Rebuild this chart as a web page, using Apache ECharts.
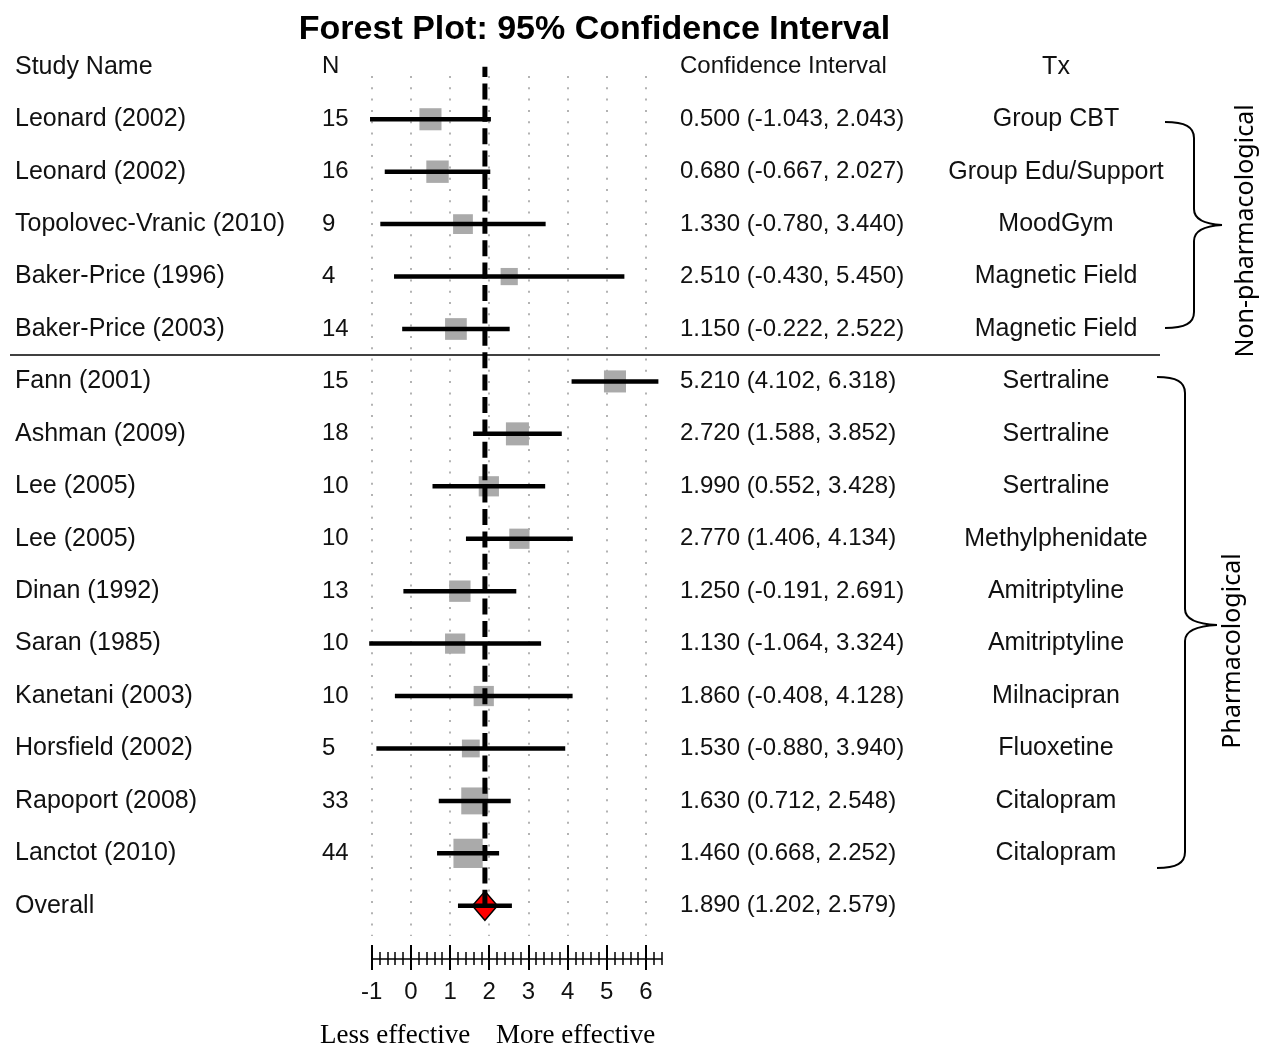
<!DOCTYPE html>
<html>
<head>
<meta charset="utf-8">
<title>Forest Plot: 95% Confidence Interval</title>
<script src="https://cdn.jsdelivr.net/npm/echarts@6/dist/echarts.min.js"></script>
<style>
  html, body { margin: 0; padding: 0; background: #fff; }
  #chart { width: 1272px; height: 1050px; }
</style>
</head>
<body>
<div id="chart"></div>
<script>
// rows, top to bottom
const studyNames = [
  "Leonard (2002)", "Leonard (2002)", "Topolovec-Vranic (2010)", "Baker-Price (1996)",
  "Baker-Price (2003)", "Fann (2001)", "Ashman (2009)", "Lee (2005)", "Lee (2005)",
  "Dinan (1992)", "Saran (1985)", "Kanetani (2003)", "Horsfield (2002)",
  "Rapoport (2008)", "Lanctot (2010)"
];
const sampleSizes = [15, 16, 9, 4, 14, 15, 18, 10, 10, 13, 10, 10, 5, 33, 44];
const estimates = [0.5, 0.68, 1.33, 2.51, 1.15, 5.21, 2.72, 1.99, 2.77, 1.25, 1.13, 1.86, 1.53, 1.63, 1.46];
const lowerBounds = [-1.043, -0.667, -0.78, -0.43, -0.222, 4.102, 1.588, 0.552, 1.406, -0.191, -1.064, -0.408, -0.88, 0.712, 0.668];
const upperBounds = [2.043, 2.027, 3.44, 5.45, 2.522, 6.318, 3.852, 3.428, 4.134, 2.691, 3.324, 4.128, 3.94, 2.548, 2.252];
const treatments = [
  "Group CBT", "Group Edu/Support", "MoodGym", "Magnetic Field", "Magnetic Field",
  "Sertraline", "Sertraline", "Sertraline", "Methylphenidate", "Amitriptyline",
  "Amitriptyline", "Milnacipran", "Fluoxetine", "Citalopram", "Citalopram"
];
const overallLabel = "Overall";
const overallEstimate = 1.89;
const overallLower = 1.202;
const overallUpper = 2.579;
const columnHeaders = ["Study Name", "N", "Confidence Interval", "Tx"];
const xTickValues = [-1, 0, 1, 2, 3, 4, 5, 6];
const groupLabels = ["Non-pharmacological", "Pharmacological"];
const effectLabels = ["Less effective", "More effective"];

const FONT = "'Liberation Sans', Arial, sans-serif";
const overallRow = studyNames.length + 1;

// plot area in pixels
const plotLeft = 371.7;
const plotWidth = 289.9;
const rowsTop = 40.6;
const rowsHeight = 891.4;

function fmtCI(est, lo, hi) {
  return est.toFixed(3) + " (" + lo.toFixed(3) + ", " + hi.toFixed(3) + ")";
}

const rowIds = [];
for (let i = 0; i <= overallRow; i++) rowIds.push(String(i));

const nameColumn = [columnHeaders[0]].concat(studyNames, [overallLabel]);
const nColumn = [columnHeaders[1]].concat(sampleSizes.map(String), [""]);
const ciColumn = [columnHeaders[2]].concat(
  estimates.map((e, i) => fmtCI(e, lowerBounds[i], upperBounds[i])),
  [fmtCI(overallEstimate, overallLower, overallUpper)]
);
const txColumn = [columnHeaders[3]].concat(treatments, [""]);

function columnAxis(texts, position, margin, align, size) {
  return {
    type: "category",
    gridIndex: 0,
    data: rowIds,
    inverse: true,
    position: position,
    axisLine: { show: false },
    axisTick: { show: false },
    splitLine: { show: false },
    axisLabel: {
      interval: 0,
      margin: margin,
      align: align,
      color: "#111",
      fontFamily: FONT,
      fontSize: size,
      formatter: (v) => texts[+v]
    }
  };
}

// the x axis at the bottom is built from stacked axes: long/short ticks, above/below the line
function tickAxis(opts) {
  return Object.assign({
    type: "value",
    gridIndex: 1,
    min: -1,
    max: 6.4,
    position: "bottom",
    offset: 23,
    axisLine: { show: false, onZero: false },
    axisLabel: { show: false },
    splitLine: { show: false }
  }, opts);
}

function ciLine(params, api) {
  const start = api.coord([api.value(0), api.value(2)]);
  const end = api.coord([api.value(1), api.value(2)]);
  return {
    type: "line",
    shape: { x1: start[0], y1: start[1], x2: end[0], y2: end[1] },
    style: { stroke: "#000", lineWidth: 4.5 }
  };
}

// curly brace opening to the left: ends at xEnd, spine at xSpine, tip at (xTip, yTip)
function brace(xEnd, xSpine, xTip, yTop, yTip, yBottom) {
  const r = 16;
  const st = { stroke: "#000", lineWidth: 2, fill: null };
  const dx = xSpine - xEnd;
  const tx = xTip - xSpine;
  const parts = [
    { type: "bezierCurve", shape: { x1: xEnd, y1: yTop, cpx1: xEnd + dx * 0.7, cpy1: yTop, cpx2: xSpine, cpy2: yTop + 5, x2: xSpine, y2: yTop + r } },
    { type: "line", shape: { x1: xSpine, y1: yTop + r, x2: xSpine, y2: yTip - r } },
    { type: "bezierCurve", shape: { x1: xSpine, y1: yTip - r, cpx1: xSpine, cpy1: yTip - 6, cpx2: xSpine + tx * 0.35, cpy2: yTip - 1, x2: xTip, y2: yTip } },
    { type: "bezierCurve", shape: { x1: xTip, y1: yTip, cpx1: xSpine + tx * 0.35, cpy1: yTip + 1, cpx2: xSpine, cpy2: yTip + 6, x2: xSpine, y2: yTip + r } },
    { type: "line", shape: { x1: xSpine, y1: yTip + r, x2: xSpine, y2: yBottom - r } },
    { type: "bezierCurve", shape: { x1: xSpine, y1: yBottom - r, cpx1: xSpine, cpy1: yBottom - 5, cpx2: xEnd + dx * 0.7, cpy2: yBottom, x2: xEnd, y2: yBottom } }
  ];
  return { type: "group", children: parts.map((p) => Object.assign(p, { style: st })) };
}

const chart = echarts.init(document.getElementById("chart"));

const option = {
  backgroundColor: "#fff",
  animation: false,
  title: {
    text: "Forest Plot: 95% Confidence Interval",
    left: 589.5,
    top: 8,
    textAlign: "center",
    textStyle: { fontFamily: FONT, fontSize: 34, fontWeight: "bold", color: "#000" }
  },
  grid: [
    { left: plotLeft, width: plotWidth, top: rowsTop, height: rowsHeight, containLabel: false, outerBoundsMode: "none" },
    { left: plotLeft, width: plotWidth, top: 76, height: 860, containLabel: false, outerBoundsMode: "none" }
  ],
  xAxis: [
    { type: "value", gridIndex: 0, min: -1, max: 6.4, show: false },
    {
      type: "value",
      gridIndex: 1,
      min: -1,
      max: 6.4,
      interval: 1,
      position: "bottom",
      offset: 23,
      axisLine: { show: true, onZero: false, lineStyle: { color: "#000", width: 1.5 } },
      axisTick: { show: true, length: 11, customValues: xTickValues, lineStyle: { color: "#000", width: 2 } },
      axisLabel: {
        show: true,
        customValues: xTickValues,
        margin: 21,
        color: "#111",
        fontFamily: FONT,
        fontSize: 24
      },
      splitLine: { show: true, lineStyle: { color: "#b3b3b3", width: 2, type: [2, 9.3] } }
    },
    tickAxis({ interval: 1, axisTick: { show: true, inside: true, length: 14, customValues: xTickValues, lineStyle: { color: "#000", width: 2 } } }),
    tickAxis({ interval: 0.2, axisTick: { show: true, length: 6, lineStyle: { color: "#000", width: 1.5 } } }),
    tickAxis({ interval: 0.2, axisTick: { show: true, inside: true, length: 7, lineStyle: { color: "#000", width: 1.5 } } })
  ],
  yAxis: [
    columnAxis(nameColumn, "left", plotLeft - 15, "left", 25),
    columnAxis(nColumn, "left", plotLeft - 322, "left", 24),
    columnAxis(ciColumn, "right", 680 - plotLeft - plotWidth, "left", 24),
    columnAxis(txColumn, "right", 1056 - plotLeft - plotWidth, "center", 25),
    { type: "value", gridIndex: 1, min: 0, max: 1, show: false }
  ],
  series: [
    {
      name: "Estimate",
      type: "scatter",
      xAxisIndex: 0,
      yAxisIndex: 0,
      symbol: "rect",
      symbolSize: (val) => 12 + 2.6 * Math.sqrt(val[2]),
      itemStyle: { color: "#aaaaaa", opacity: 1 },
      silent: true,
      z: 2,
      data: estimates.map((e, i) => [e, i + 1, sampleSizes[i]])
    },
    {
      name: "95% CI",
      type: "custom",
      xAxisIndex: 0,
      yAxisIndex: 0,
      renderItem: ciLine,
      encode: { x: [0, 1], y: 2 },
      silent: true,
      z: 3,
      data: lowerBounds.map((lo, i) => [lo, upperBounds[i], i + 1])
    },
    {
      name: "Overall",
      type: "scatter",
      xAxisIndex: 0,
      yAxisIndex: 0,
      symbol: "diamond",
      symbolSize: [25, 29],
      itemStyle: { color: "#ff0000", borderColor: "#000", borderWidth: 1.5, opacity: 1 },
      silent: true,
      z: 4,
      data: [[overallEstimate, overallRow]]
    },
    {
      name: "Overall reference",
      type: "custom",
      xAxisIndex: 0,
      yAxisIndex: 0,
      silent: true,
      z: 5,
      encode: { x: 0, y: [1, 2] },
      renderItem: (params, api) => {
        const bottom = api.coord([api.value(0), api.value(2)]);
        const top = api.coord([api.value(0), api.value(1)]);
        return {
          type: "line",
          shape: { x1: bottom[0], y1: bottom[1], x2: top[0], y2: top[1] },
          style: { stroke: "#000", lineWidth: 5, lineDash: [16, 6.4] }
        };
      },
      data: [[overallEstimate, 0, overallRow]]
    },
    {
      name: "Overall CI",
      type: "custom",
      xAxisIndex: 0,
      yAxisIndex: 0,
      renderItem: ciLine,
      encode: { x: [0, 1], y: 2 },
      silent: true,
      z: 6,
      data: [[overallLower, overallUpper, overallRow]]
    }
  ],
  graphic: [
    // divider between the two groups
    { type: "line", shape: { x1: 10, y1: 355, x2: 1160, y2: 355 }, style: { stroke: "#000", lineWidth: 1.5 } },
    brace(1165, 1194, 1222, 122, 225, 328),
    brace(1157, 1185, 1217, 377, 625, 868),
    {
      type: "text", x: 1246, y: 231, rotation: Math.PI / 2,
      style: { text: groupLabels[0], fontFamily: "'Noto Sans', 'Open Sans', sans-serif", fontSize: 25, fill: "#000", align: "center", verticalAlign: "middle" }
    },
    {
      type: "text", x: 1233, y: 651, rotation: Math.PI / 2,
      style: { text: groupLabels[1], fontFamily: "'Noto Sans', 'Open Sans', sans-serif", fontSize: 25, fill: "#000", align: "center", verticalAlign: "middle" }
    },
    {
      type: "text", x: 320, y: 1036,
      style: { text: effectLabels[0], fontFamily: "'Liberation Serif', 'Times New Roman', serif", fontSize: 27, fill: "#000", align: "left", verticalAlign: "middle" }
    },
    {
      type: "text", x: 496, y: 1036,
      style: { text: effectLabels[1], fontFamily: "'Liberation Serif', 'Times New Roman', serif", fontSize: 27, fill: "#000", align: "left", verticalAlign: "middle" }
    }
  ]
};

chart.setOption(option);
window.addEventListener("resize", function () {
  chart.resize();
});
</script>
</body>
</html>
